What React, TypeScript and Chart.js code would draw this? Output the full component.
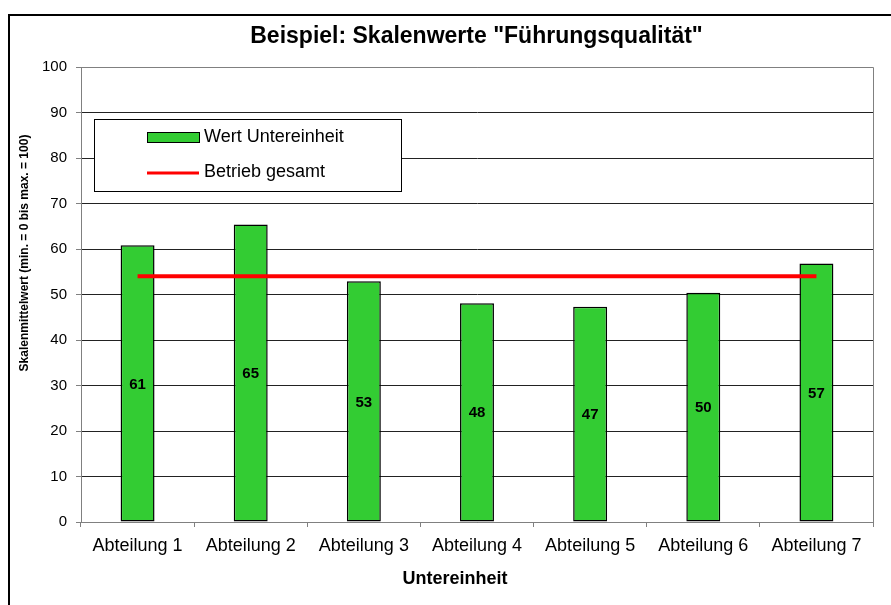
import React, { useEffect, useRef } from "react";
import { Chart, registerables } from "chart.js";

Chart.register(...registerables);

const categories = ["Abteilung 1", "Abteilung 2", "Abteilung 3", "Abteilung 4", "Abteilung 5", "Abteilung 6", "Abteilung 7"];
const unitValues = [60.8, 65.4, 52.9, 48.1, 47.3, 50.4, 56.8];
const totalValues = [54, 54, 54, 54, 54, 54, 54];
const yTicks = [0, 10, 20, 30, 40, 50, 60, 70, 80, 90, 100];

const titleText = 'Beispiel: Skalenwerte "Führungsqualität"';
const yTitleText = "Skalenmittelwert (min. = 0 bis max. = 100)";
const xTitleText = "Untereinheit";
const legendUnit = "Wert Untereinheit";
const legendTotal = "Betrieb gesamt";

const FONT = "'Liberation Sans', Arial, Helvetica, sans-serif";

const decorPlugin = {
  id: "decor",
  beforeDraw(chart: any) {
    const ctx = chart.ctx;
    ctx.save();
    ctx.fillStyle = "#ffffff";
    ctx.fillRect(0, 0, chart.width, chart.height);
    ctx.strokeStyle = "#000000";
    ctx.lineWidth = 2;
    ctx.strokeRect(9, 15, chart.width + 10, chart.height + 10);
    ctx.restore();
  },
  afterDatasetsDraw(chart: any) {
    const ctx = chart.ctx;
    const area = chart.chartArea;
    ctx.save();
    // plot area border
    ctx.strokeStyle = "#808080";
    ctx.lineWidth = 1;
    ctx.beginPath();
    ctx.moveTo(area.left, area.top + 0.5);
    ctx.lineTo(area.right + 0.5, area.top + 0.5);
    ctx.lineTo(area.right + 0.5, area.bottom);
    ctx.stroke();

    // bar labels
    const meta = chart.getDatasetMeta(0);
    ctx.fillStyle = "#000";
    ctx.font = `bold 15px ${FONT}`;
    ctx.textAlign = "center";
    ctx.textBaseline = "middle";
    meta.data.forEach((el: any, i: number) => {
      const v = unitValues[i];
      ctx.fillText(String(Math.round(v)), el.x, (el.y + el.base) / 2 + 1);
    });

    // title
    ctx.font = `bold 23px ${FONT}`;
    ctx.textBaseline = "alphabetic";
    ctx.fillText(titleText, 476.5, 43);

    // x title
    ctx.font = `bold 18px ${FONT}`;
    ctx.textBaseline = "middle";
    ctx.fillText(xTitleText, 455, 579);

    // y title
    ctx.save();
    ctx.translate(25, 253);
    ctx.rotate(-Math.PI / 2);
    ctx.font = `bold 12px ${FONT}`;
    ctx.fillText(yTitleText, 0, 0);
    ctx.restore();

    // legend
    ctx.fillStyle = "#ffffff";
    ctx.fillRect(94.5, 119.5, 307, 72);
    ctx.strokeStyle = "#000";
    ctx.lineWidth = 1;
    ctx.strokeRect(94.5, 119.5, 307, 72);
    ctx.fillStyle = "#33CC33";
    ctx.fillRect(147.5, 132.5, 52, 10);
    ctx.strokeRect(147.5, 132.5, 52, 10);
    ctx.strokeStyle = "#FF0000";
    ctx.lineWidth = 3;
    ctx.beginPath();
    ctx.moveTo(147, 173);
    ctx.lineTo(199, 173);
    ctx.stroke();
    ctx.fillStyle = "#000";
    ctx.font = `18px ${FONT}`;
    ctx.textAlign = "left";
    ctx.textBaseline = "middle";
    ctx.fillText(legendUnit, 204, 137);
    ctx.fillText(legendTotal, 204, 172);
    ctx.restore();
  },
};

export default function App() {
  const ref = useRef<HTMLCanvasElement | null>(null);
  useEffect(() => {
    document.body.style.margin = "0";
    const canvas = ref.current!;
    const chart = new Chart(canvas, {
      type: "bar",
      data: {
        labels: categories,
        datasets: [
          {
            type: "bar",
            label: legendUnit,
            data: unitValues,
            backgroundColor: "#33CC33",
            borderColor: "#000000",
            borderWidth: 1.5,
            borderSkipped: false,
            categoryPercentage: 1,
            barPercentage: 0.3,
            order: 2,
          } as any,
          {
            type: "line",
            label: legendTotal,
            data: totalValues,
            borderColor: "#FF0000",
            borderWidth: 4,
            pointRadius: 0,
            fill: false,
            order: 1,
          } as any,
        ],
      },
      options: {
        responsive: false,
        animation: false,
        layout: { padding: { left: 0, top: 67, right: 18, bottom: 0 } },
        plugins: {
          legend: { display: false },
          title: { display: false },
          tooltip: { enabled: false },
        },
        scales: {
          x: {
            offset: true,
            grid: {
              offset: true,
              drawOnChartArea: false,
              drawTicks: true,
              tickLength: 5,
              color: "#808080",
            },
            border: { color: "#808080", width: 1 },
            ticks: {
              color: "#000",
              font: { family: FONT, size: 18 },
              padding: 8,
              maxRotation: 0,
              autoSkip: false,
            },
            afterFit(scale: any) {
              scale.height = 83;
            },
          },
          y: {
            min: 0,
            max: 100,
            afterBuildTicks(scale: any) {
              scale.ticks = yTicks.map((v) => ({ value: v }));
            },
            grid: {
              color: (c: any) => (c.tick && c.tick.value === 100 ? "#808080" : "#222222"),
              tickColor: "#808080",
              drawTicks: true,
              tickLength: 5,
            },
            border: { color: "#808080", width: 1 },
            ticks: {
              color: "#000",
              font: { family: FONT, size: 15 },
              padding: 9,
            },
            afterFit(scale: any) {
              scale.width = 81;
            },
          },
        },
      },
      plugins: [decorPlugin],
    });
    return () => chart.destroy();
  }, []);
  return <canvas ref={ref} width={891} height={605} style={{ display: "block" }} />;
}
